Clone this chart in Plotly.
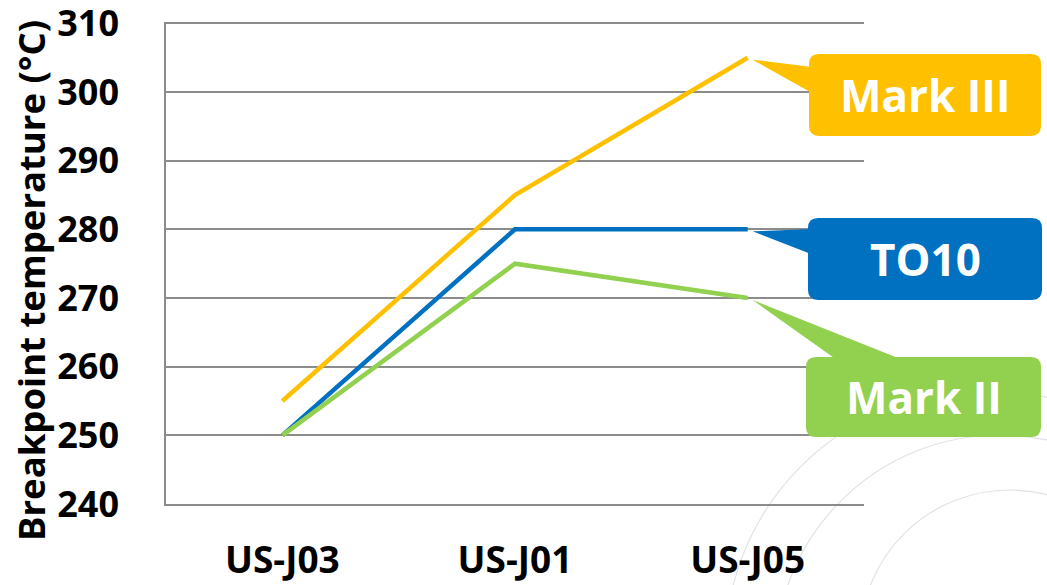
import plotly.graph_objects as go

categories = ["US-J03", "US-J01", "US-J05"]
mark3 = [255, 285, 305]
to10 = [250, 280, 280]
mark2 = [250, 275, 270]
series_names = ["Mark III", "TO10", "Mark II"]
series_colors = ["#FFC000", "#0070C0", "#92D050"]
y_range = [240, 310.2]
y_ticks = [240, 250, 260, 270, 280, 290, 300, 310]

W, H = 1047, 585
ML, MR, MT, MB = 166, 183, 22, 81
PW, PH = W - ML - MR, H - MT - MB

def xp(px):
    return (px - ML) / PW

def yp(py):
    return (H - MB - py) / PH

def data_px(i, v):
    x = ML + (i + 0.5) * PW / len(categories)
    y = H - MB - (v - y_range[0]) / (y_range[1] - y_range[0]) * PH
    return x, y

fig = go.Figure()
for name, vals, col in zip(series_names, [mark3, to10, mark2], series_colors):
    fig.add_trace(go.Scatter(x=categories, y=vals, mode="lines", name=name,
                             line=dict(color=col, width=4.5), hoverinfo="skip", cliponaxis=False))

shapes = []
annotations = []

# faint watermark circles
for cx, cy, r in [(985, 650, 260), (1000, 660, 225), (1010, 640, 150)]:
    shapes.append(dict(type="circle", xref="paper", yref="paper",
                       x0=xp(cx - r), x1=xp(cx + r), y0=yp(cy + r), y1=yp(cy - r),
                       line=dict(color="#e2e2e2", width=1.2), layer="below"))

def pt(x, y):
    return f"{xp(x):.5f},{yp(y):.5f}"

def rounded_rect(x0, y0, x1, y1, r):
    return ("M " + pt(x0 + r, y0) + " L " + pt(x1 - r, y0) + " Q " + pt(x1, y0) + " " + pt(x1, y0 + r) +
            " L " + pt(x1, y1 - r) + " Q " + pt(x1, y1) + " " + pt(x1 - r, y1) +
            " L " + pt(x0 + r, y1) + " Q " + pt(x0, y1) + " " + pt(x0, y1 - r) +
            " L " + pt(x0, y0 + r) + " Q " + pt(x0, y0) + " " + pt(x0 + r, y0) + " Z")

callouts = [
    ((809, 54, 1041, 136), [(812, 67), (812, 93)], mark3[-1]),
    ((808, 218, 1042, 300), [(811, 229), (811, 254)], to10[-1]),
    ((806, 357, 1041, 437), [(837, 360), (903, 360)], mark2[-1]),
]
for (box, base, val), name, col in zip(callouts, series_names, series_colors):
    tx, ty = data_px(len(categories) - 1, val)
    tx += 5
    ty += 2
    tri = "M " + pt(tx, ty) + " L " + pt(*base[0]) + " L " + pt(*base[1]) + " Z"
    shapes.append(dict(type="path", xref="paper", yref="paper", path=tri,
                       fillcolor=col, line=dict(width=0), layer="above"))
    shapes.append(dict(type="path", xref="paper", yref="paper",
                       path=rounded_rect(*box, 10), fillcolor=col,
                       line=dict(width=0), layer="above"))
    annotations.append(dict(xref="paper", yref="paper",
                            x=xp((box[0] + box[2]) / 2), y=yp((box[1] + box[3]) / 2),
                            text=name, showarrow=False, xanchor="center", yanchor="middle",
                            font=dict(family="Open Sans", size=44, color="white", weight="bold")))

annotations.append(dict(xref="paper", yref="paper", x=xp(31), y=yp(281),
                        text="Breakpoint temperature (°C)", textangle=-90, showarrow=False,
                        xanchor="center", yanchor="middle",
                        font=dict(family="Open Sans", size=36.5, color="black", weight="bold")))

fig.update_layout(
    width=W, height=H,
    margin=dict(l=ML, r=MR, t=MT, b=MB, autoexpand=False),
    paper_bgcolor="white", plot_bgcolor="white",
    showlegend=False,
    shapes=shapes, annotations=annotations,
    xaxis=dict(type="category", showgrid=False, showline=True, linecolor="#8c8c8c", linewidth=1.5,
               ticks="", ticklabelstandoff=23, automargin=False, ticklabeloverflow="allow",
               tickfont=dict(family="Open Sans", size=37, color="black", weight="bold"),
               range=[-0.5, 2.5], fixedrange=True),
    yaxis=dict(range=y_range, tickmode="array", tickvals=y_ticks,
               showgrid=True, gridcolor="#8c8c8c", gridwidth=1.5, automargin=False,
               showline=True, linecolor="#8c8c8c", linewidth=1.5, zeroline=False, ticks="",
               ticklabelstandoff=38, ticklabeloverflow="allow",
               tickfont=dict(family="Open Sans", size=36, color="black", weight="bold"),
               fixedrange=True),
)

fig.write_html("out.html", config={"displayModeBar": False})
